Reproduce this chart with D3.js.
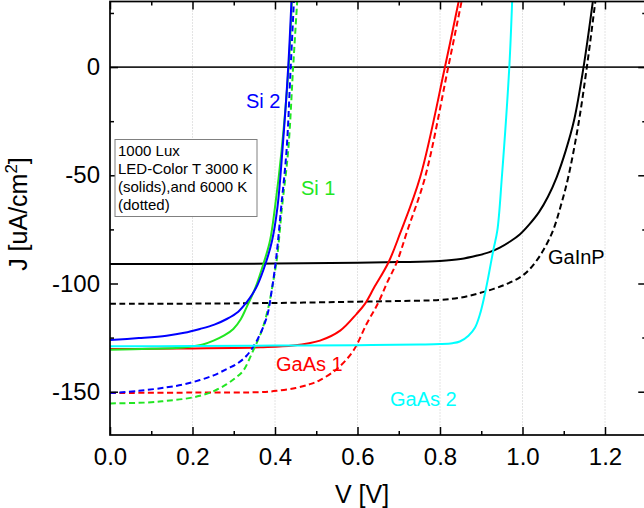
<!DOCTYPE html>
<html>
<head>
<meta charset="utf-8">
<script src="https://cdn.jsdelivr.net/npm/d3@7"></script>
<style>
  body { margin: 0; background: #fff; }
  svg { display: block; font-family: "Liberation Sans", Arial, sans-serif; }
</style>
</head>
<body>
<div id="vis"></div>
<script>
// J-V curves: [V, J]
var gainp3000 = [[0,-91.0],[0.2,-91.0],[0.4,-90.8],[0.6,-90.4],[0.7,-90.1],[0.8,-89.6],[0.85,-88.7],[0.89,-87.1],[0.92,-85.5],[0.945,-83.4],[0.97,-80.6],[0.994,-77.2],[1.015,-73],[1.04,-67],[1.062,-59.8],[1.083,-50.8],[1.105,-38.5],[1.125,-24.6],[1.148,0],[1.171,31]];
var gainp6000 = [[0,-109.4],[0.2,-109.3],[0.4,-109.0],[0.6,-108.4],[0.7,-108.1],[0.8,-107.6],[0.85,-106.5],[0.889,-104.8],[0.93,-102.5],[0.962,-100.2],[0.99,-97.6],[1.01,-94.8],[1.03,-90.5],[1.05,-84.8],[1.074,-75.5],[1.093,-64],[1.111,-50.8],[1.135,-27],[1.156,0],[1.177,31]];
var gaas1_3000 = [[0,-130.3],[0.1,-130.2],[0.2,-130.0],[0.3,-129.8],[0.364,-129.5],[0.444,-128.7],[0.509,-126.4],[0.558,-121.8],[0.598,-114],[0.618,-109.4],[0.64,-102],[0.675,-90.3],[0.703,-77],[0.752,-50.8],[0.812,0],[0.846,31]];
var gaas1_6000 = [[0,-150.6],[0.2,-150.4],[0.364,-150.2],[0.404,-149.6],[0.45,-148.3],[0.485,-146.5],[0.509,-144.6],[0.55,-139.5],[0.59,-131],[0.622,-118.7],[0.65,-109],[0.672,-99.5],[0.695,-90.3],[0.721,-75.5],[0.764,-50.8],[0.82,0],[0.853,31]];
var gaas2_3000 = [[0,-129.0],[0.2,-128.9],[0.4,-128.7],[0.6,-128.5],[0.75,-128.2],[0.8,-128.0],[0.83,-127.6],[0.848,-126.8],[0.869,-124.1],[0.885,-120.3],[0.897,-114.1],[0.907,-106.4],[0.917,-97.1],[0.929,-84.8],[0.939,-75.5],[0.95,-50.8],[0.968,0],[0.975,31]];
var si1_3000 = [[0,-130.6],[0.1,-130.2],[0.16,-129.8],[0.194,-129.2],[0.225,-128.2],[0.251,-126.4],[0.277,-124],[0.299,-121],[0.317,-116.5],[0.331,-111],[0.353,-101.7],[0.372,-90.9],[0.388,-80.1],[0.4,-64.7],[0.416,-38.5],[0.433,0],[0.441,31]];
var si1_6000 = [[0,-155.4],[0.1,-154.9],[0.137,-154.2],[0.18,-153.3],[0.218,-151.9],[0.253,-149.6],[0.283,-146.5],[0.305,-143.5],[0.323,-140.3],[0.347,-131],[0.368,-121.8],[0.384,-111],[0.396,-98.7],[0.405,-88],[0.417,-64.7],[0.432,-38.5],[0.444,0],[0.454,31]];
var si2_3000 = [[0,-126.1],[0.07,-125.2],[0.137,-124.1],[0.18,-122.8],[0.218,-121],[0.253,-119],[0.283,-116.4],[0.311,-113],[0.331,-108.7],[0.345,-105],[0.358,-100.5],[0.377,-90.9],[0.393,-80.1],[0.406,-64.7],[0.418,-38.5],[0.432,0],[0.44,31]];
var si2_6000 = [[0,-150.6],[0.07,-149.6],[0.137,-148],[0.18,-146.6],[0.218,-144.6],[0.253,-142.3],[0.283,-139.5],[0.31,-136.8],[0.331,-133.4],[0.356,-126.4],[0.38,-115.6],[0.392,-103.3],[0.403,-88],[0.415,-64.7],[0.428,-38.5],[0.438,0],[0.446,31]];

var xTicks = [0, 0.2, 0.4, 0.6, 0.8, 1.0, 1.2];
var xMinor = [0.1, 0.3, 0.5, 0.7, 0.9, 1.1];
var yTicks = [0, -50, -100, -150];
var yMinor = [25, -25, -75, -125];
var legendLines = ["1000 Lux", "LED-Color T 3000 K", "(solids),and 6000 K", "(dotted)"];

var width = 644;
var height = 508;
var pLeft = 110, pRight = 646.25, pTop = 1.5, pBottom = 435;
var green = "#22e622";

var canvas = d3.select("#vis")
            .append("svg")
            .attr("width", width)
            .attr("height", height);

var x = d3.scaleLinear().domain([0, 1.3]).range([pLeft, pRight]);
var y = d3.scaleLinear().domain([-170, 30.3]).range([pBottom, pTop]);

// vertical dotted grid
canvas.append("g")
   .selectAll("line")
   .data(xTicks.slice(1))
   .join("line")
   .attr("x1", d => x(d)).attr("x2", d => x(d))
   .attr("y1", pTop).attr("y2", pBottom)
   .attr("stroke", "#c8c8c8")
   .attr("stroke-width", 1)
   .attr("stroke-dasharray", "1,2");

// zero line
canvas.append("line")
   .attr("x1", pLeft).attr("x2", pRight)
   .attr("y1", y(0)).attr("y2", y(0))
   .attr("stroke", "#222")
   .attr("stroke-width", 1.6);

canvas.append("clipPath").attr("id", "clip")
   .append("rect")
   .attr("x", pLeft).attr("y", pTop)
   .attr("width", pRight - pLeft).attr("height", pBottom - pTop);

var series = [
  {data: gainp3000, color: "#000000", dashed: false},
  {data: gainp6000, color: "#000000", dashed: true},
  {data: gaas1_3000, color: "#ff0000", dashed: false},
  {data: gaas1_6000, color: "#ff0000", dashed: true},
  {data: si1_3000, color: green, dashed: false},
  {data: si1_6000, color: green, dashed: true},
  {data: si2_3000, color: "#0000ff", dashed: false},
  {data: si2_6000, color: "#0000ff", dashed: true},
  {data: gaas2_3000, color: "#00ffff", dashed: false}
];

var line = d3.line()
             .x(d => x(d[0]))
             .y(d => y(d[1]))
             .curve(d3.curveCatmullRom.alpha(0.5));

canvas.append("g")
   .attr("clip-path", "url(#clip)")
   .selectAll("path")
   .data(series)
   .join("path")
   .attr("d", d => line(d.data))
   .attr("fill", "none")
   .attr("stroke", d => d.color)
   .attr("stroke-width", 2)
   .attr("stroke-dasharray", d => d.dashed ? "6,3.5" : null);

// axes, ticks pointing inward
function styleAxis(g) {
  g.select(".domain").remove();
  g.selectAll(".tick line").attr("stroke", "#000").attr("stroke-width", 1.5);
  g.selectAll("text").attr("fill", "#000").style("font-size", "24px")
   .style("font-family", "'Liberation Sans', Arial, sans-serif");
}

canvas.append("g")
   .attr("transform", `translate(0,${pBottom})`)
   .call(d3.axisBottom(x).tickValues(xTicks).tickSize(-8).tickPadding(13).tickFormat(d3.format(".1f")))
   .call(styleAxis);
canvas.append("g")
   .attr("transform", `translate(0,${pBottom})`)
   .call(d3.axisBottom(x).tickValues(xMinor).tickSize(-4).tickFormat(""))
   .call(styleAxis);
canvas.append("g")
   .attr("transform", `translate(0,${pTop})`)
   .call(d3.axisTop(x).tickValues(xTicks).tickSize(-8).tickFormat(""))
   .call(styleAxis);
canvas.append("g")
   .attr("transform", `translate(0,${pTop})`)
   .call(d3.axisTop(x).tickValues(xMinor).tickSize(-4).tickFormat(""))
   .call(styleAxis);

canvas.append("g")
   .attr("transform", `translate(${pLeft},0)`)
   .call(d3.axisLeft(y).tickValues(yTicks).tickSize(-8).tickPadding(10).tickFormat(d => String(d)))
   .call(styleAxis);
canvas.append("g")
   .attr("transform", `translate(${pLeft},0)`)
   .call(d3.axisLeft(y).tickValues(yMinor).tickSize(-4).tickFormat(""))
   .call(styleAxis);
canvas.append("g")
   .attr("transform", `translate(${pRight},0)`)
   .call(d3.axisRight(y).tickValues(yTicks).tickSize(-8).tickFormat(""))
   .call(styleAxis);
canvas.append("g")
   .attr("transform", `translate(${pRight},0)`)
   .call(d3.axisRight(y).tickValues(yMinor).tickSize(-4).tickFormat(""))
   .call(styleAxis);

// frame
canvas.append("rect")
   .attr("x", pLeft).attr("y", pTop)
   .attr("width", pRight - pLeft).attr("height", pBottom - pTop)
   .attr("fill", "none")
   .attr("stroke", "#000")
   .attr("stroke-width", 1.7);

// axis titles
canvas.append("text")
   .attr("x", 362).attr("y", 503)
   .attr("text-anchor", "middle")
   .style("font-size", "25px")
   .text("V [V]");

var yTitle = canvas.append("text")
   .attr("transform", "translate(27,214) rotate(-90)")
   .attr("text-anchor", "middle")
   .style("font-size", "25px");
yTitle.append("tspan").text("J [uA/cm");
yTitle.append("tspan").text("2").style("font-size", "17px").attr("dy", -10);
yTitle.append("tspan").text("]").attr("dy", 10);

// legend box
canvas.append("rect")
   .attr("x", 115).attr("y", 139.5)
   .attr("width", 142).attr("height", 77)
   .attr("fill", "#fff")
   .attr("stroke", "#808080")
   .attr("stroke-width", 1);

canvas.append("g")
   .selectAll("text")
   .data(legendLines)
   .join("text")
   .attr("x", 118)
   .attr("y", (d, i) => 155.7 + i * 18.1)
   .style("font-size", "15px")
   .text(d => d);

// curve labels
var labels = [
  {t: "Si 2", x: 246, y: 108, c: "#0000ff"},
  {t: "Si 1", x: 301, y: 195, c: green},
  {t: "GaInP", x: 548, y: 264, c: "#000000"},
  {t: "GaAs 1", x: 276, y: 371, c: "#ff0000"},
  {t: "GaAs 2", x: 390, y: 406, c: "#00ffff"}
];
canvas.append("g")
   .selectAll("text")
   .data(labels)
   .join("text")
   .attr("x", d => d.x).attr("y", d => d.y)
   .attr("fill", d => d.c)
   .style("font-size", "20px")
   .text(d => d.t);
</script>
</body>
</html>
